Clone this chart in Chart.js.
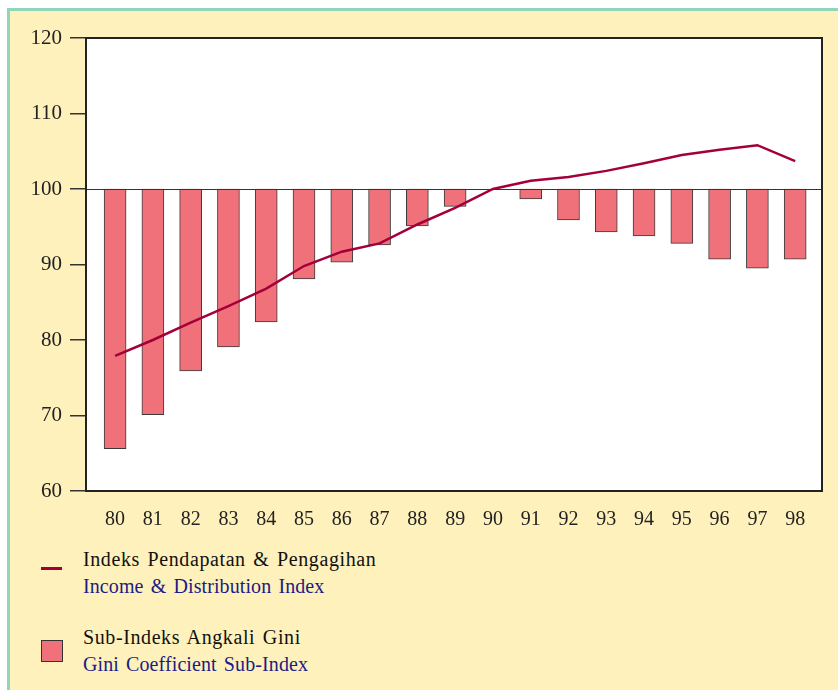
<!DOCTYPE html>
<html>
<head>
<meta charset="utf-8">
<script src="https://cdn.jsdelivr.net/npm/chart.js@4/dist/chart.umd.min.js"></script>
<style>
  body { margin: 0; background: #fff; }
  #frame {
    position: absolute; left: 7px; top: 8px; width: 831px; height: 682px;
    background: #fff1bc; border-left: 3px solid #8fd6bc; border-top: 3px solid #8fd6bc;
    box-sizing: border-box;
  }
  #chart { position: absolute; left: 0; top: 0; }
  .legend { position: absolute; left: 0; top: 0; font-family: "Liberation Serif", serif; font-size: 20px; }
  .item { position: absolute; left: 83px; line-height: 27px; word-spacing: 2px; white-space: nowrap; }
  .ms { color: #111; letter-spacing: 0.6px; }
  .en { color: #1c1c84; letter-spacing: 0.1px; }
  .swline { position: absolute; left: 41px; width: 21px; height: 3px; background: #a3003a; }
  .swbox { position: absolute; left: 41px; width: 20px; height: 20px; background: #f0717a; border: 1px solid #333; }
</style>
</head>
<body>
<div id="frame"></div>
<canvas id="chart" width="838" height="530"></canvas>
<div class="legend">
  <div class="swline" style="top:567px"></div>
  <div class="item" style="top:546px"><div class="ms">Indeks Pendapatan &amp; Pengagihan</div><div class="en">Income &amp; Distribution Index</div></div>
  <div class="swbox" style="top:640px"></div>
  <div class="item" style="top:624px"><div class="ms">Sub-Indeks Angkali Gini</div><div class="en">Gini Coefficient Sub-Index</div></div>
</div>
<script>
var years = [80, 81, 82, 83, 84, 85, 86, 87, 88, 89, 90, 91, 92, 93, 94, 95, 96, 97, 98];
var incomeIndex = [77.9, 80.0, 82.3, 84.5, 86.8, 89.8, 91.7, 92.8, 95.3, 97.5, 100, 101.1, 101.6, 102.4, 103.4, 104.5, 105.2, 105.8, 103.7];
var giniSubIndex = [65.6, 70.1, 75.9, 79.1, 82.4, 88.1, 90.3, 92.6, 95.1, 97.7, 100, 98.7, 95.9, 94.3, 93.8, 92.8, 90.7, 89.5, 90.7];
var yTicks = [60, 70, 80, 90, 100, 110, 120];

var serif = '"Liberation Serif", "Times New Roman", serif';

var framePlugin = {
  id: 'framePlugin',
  beforeDraw: function (chart) {
    var a = chart.chartArea, ctx = chart.ctx;
    ctx.save();
    ctx.fillStyle = '#ffffff';
    ctx.fillRect(a.left, a.top, a.right - a.left, a.bottom - a.top);
    ctx.restore();
  },
  afterDatasetsDraw: function (chart) {
    var a = chart.chartArea, ctx = chart.ctx;
    var y100 = Math.round(chart.scales.y.getPixelForValue(100)) + 0.5;
    ctx.save();
    ctx.strokeStyle = '#333';
    ctx.lineWidth = 1.2;
    ctx.beginPath();
    ctx.moveTo(a.left, y100);
    ctx.lineTo(a.right, y100);
    ctx.stroke();
    ctx.lineWidth = 2;
    ctx.strokeStyle = '#222';
    ctx.strokeRect(a.left, a.top, a.right - a.left, a.bottom - a.top);
    ctx.restore();
  }
};

new Chart(document.getElementById('chart'), {
  type: 'bar',
  data: {
    datasets: [
      {
        type: 'line',
        label: 'Income & Distribution Index',
        data: years.map(function (y, i) { return { x: y, y: incomeIndex[i] }; }),
        borderColor: '#a3003a',
        borderWidth: 2.5,
        pointRadius: 0,
        tension: 0,
        order: 0
      },
      {
        label: 'Gini Coefficient Sub-Index',
        data: years.map(function (y, i) { return { x: y, y: [giniSubIndex[i], 100] }; }),
        backgroundColor: '#f0717a',
        borderColor: '#3a3a3a',
        borderWidth: 1,
        borderSkipped: false,
        barThickness: 22,
        order: 1
      }
    ]
  },
  options: {
    responsive: false,
    animation: false,
    layout: { padding: { left: 0, top: 38, right: 16, bottom: 0 } },
    plugins: { legend: { display: false }, tooltip: { enabled: false } },
    scales: {
      x: {
        type: 'linear',
        offset: false,
        min: 79.23,
        max: 98.71,
        afterFit: function (s) { s.height = 39; },
        afterBuildTicks: function (s) { s.ticks = years.map(function (v) { return { value: v }; }); },
        grid: { display: false, offset: false },
        border: { display: false },
        ticks: { font: { family: serif, size: 20 }, color: '#222', padding: 9, maxRotation: 0, autoSkip: false,
                 callback: function (v) { return String(v); } }
      },
      y: {
        min: 60,
        max: 120,
        afterFit: function (s) { s.width = 86; },
        afterBuildTicks: function (s) { s.ticks = yTicks.map(function (v) { return { value: v }; }); },
        grid: { drawOnChartArea: false, drawTicks: true, tickLength: 16, color: '#333', lineWidth: 1.5 },
        border: { display: true, color: '#333', width: 2 },
        ticks: { font: { family: serif, size: 21 }, color: '#222', padding: 8 }
      }
    }
  },
  plugins: [framePlugin]
});
</script>
</body>
</html>
